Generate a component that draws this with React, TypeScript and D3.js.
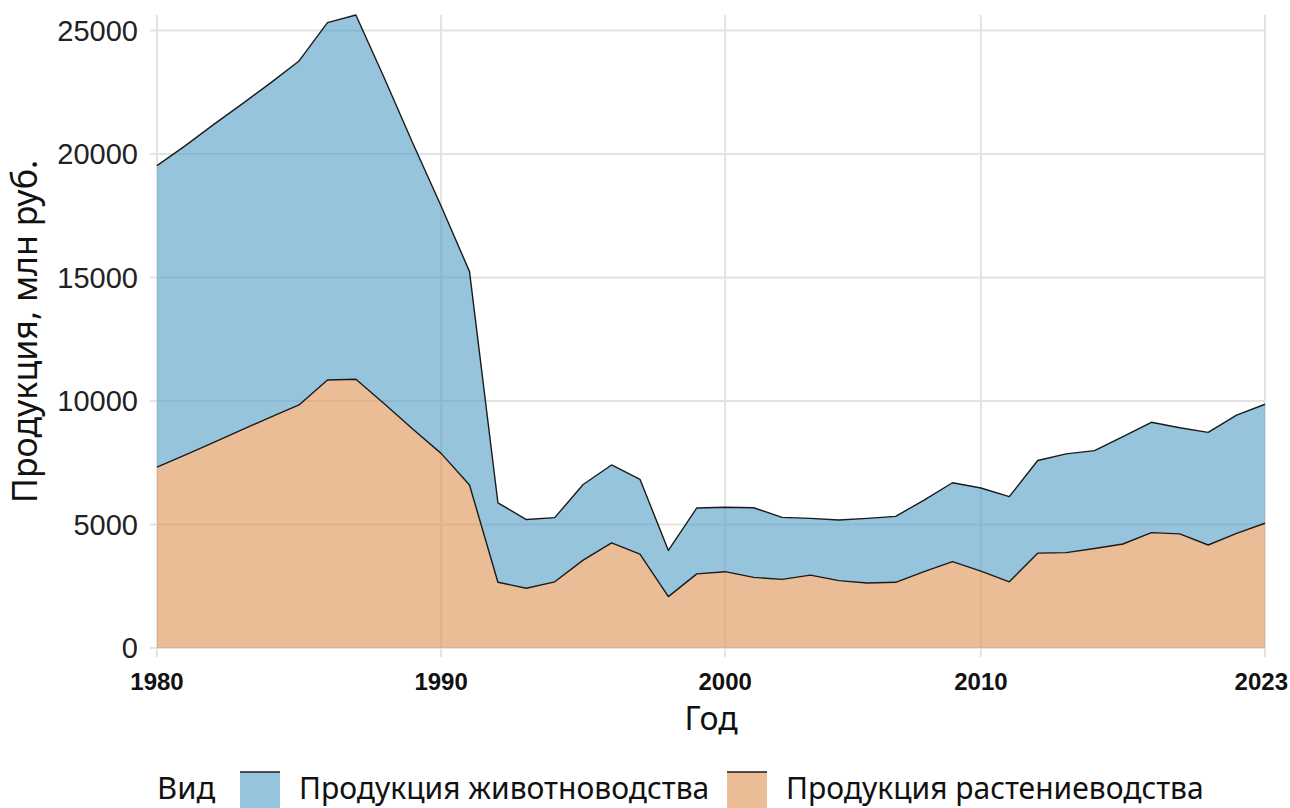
import React, { useMemo } from "react";
import * as d3 from "d3";

// Categorical year axis (the source uses years as factor levels, so spacing is even)
const YEARS = [
  1980, 1981, 1982, 1983, 1984, 1985, 1986, 1987, 1988, 1989,
  1990, 1991, 1992, 1993, 1994, 1995, 1996, 1997, 1998, 1999,
  2000, 2001, 2002, 2003, 2004, 2005, 2006, 2007, 2008, 2010,
  2011, 2012, 2014, 2015, 2017, 2018, 2020, 2021, 2022, 2023,
];

// Продукция растениеводства, млн руб.
const CROP = [
  7320, 7820, 8330, 8840, 9350, 9840, 10850, 10880, 9890, 8870,
  7880, 6600, 2660, 2420, 2680, 3560, 4260, 3800, 2080, 3000,
  3090, 2860, 2780, 2950, 2730, 2630, 2660, 3090, 3500, 3110,
  2680, 3840, 3860, 4030, 4210, 4670, 4620, 4170, 4640, 5050,
];

// Продукция животноводства, млн руб.
const LIVESTOCK = [
  12210, 12520, 12870, 13190, 13530, 13930, 14470, 14750, 13190, 11580,
  10020, 8640, 3220, 2780, 2600, 3060, 3150, 3030, 1870, 2670,
  2610, 2820, 2510, 2300, 2450, 2620, 2670, 2900, 3190, 3370,
  3450, 3750, 4000, 3960, 4350, 4470, 4300, 4560, 4790, 4820,
];

const X_BREAKS = [1980, 1990, 2000, 2010, 2023];
const Y_TICKS = [0, 5000, 10000, 15000, 20000, 25000];

const LEGEND = [
  { key: "livestock", label: "Продукция животноводства" },
  { key: "crop", label: "Продукция растениеводства" },
];

const W = 1290;
const H = 808;
const M = { top: 15, right: 25, bottom: 160, left: 157 };

const COLORS: Record<string, string> = {
  livestock: "#529dc6",
  crop: "#de9150",
};
const FILL_OPACITY = 0.6;
const GRID = "#e3e3e3";
const TICK_FONT = "'Liberation Sans', Arial, sans-serif";
const TITLE_FONT = "'Noto Sans', 'Open Sans', sans-serif";

export default function App() {
  const iW = W - M.left - M.right;
  const iH = H - M.top - M.bottom;

  const { x, y, layers } = useMemo(() => {
    const rows = YEARS.map((year, i) => ({ year, crop: CROP[i], livestock: LIVESTOCK[i] }));
    const stack = d3.stack<any>().keys(["crop", "livestock"]);
    const layers = stack(rows);
    const x = d3.scalePoint<number>().domain(YEARS).range([0, iW]).padding(0);
    const yMax = d3.max(rows, (r) => r.crop + r.livestock) ?? 1;
    const y = d3.scaleLinear().domain([0, yMax]).range([iH, 0]);
    return { x, y, layers };
  }, [iW, iH]);

  const area = d3
    .area<any>()
    .x((d) => x(d.data.year) ?? 0)
    .y0((d) => y(d[0]))
    .y1((d) => y(d[1]));
  const upper = d3
    .line<any>()
    .x((d) => x(d.data.year) ?? 0)
    .y((d) => y(d[1]));

  // keep the last year label inside the canvas (it sits flush with the right edge)
  const maxLabelRight = W - M.left - 2;

  return (
    <svg
      width={W}
      height={H}
      style={{ position: "absolute", left: 0, top: 0, background: "#fff" }}
    >
      <g transform={`translate(${M.left},${M.top})`}>
        {/* grid + ticks */}
        {Y_TICKS.map((t) => (
          <g key={t}>
            <line x1={-7} x2={iW} y1={y(t)} y2={y(t)} stroke={GRID} strokeWidth={2} />
            <text
              x={-19}
              y={y(t)}
              dy="0.36em"
              textAnchor="end"
              fontFamily={TICK_FONT}
              fontSize={29}
              fill="#222"
            >
              {t}
            </text>
          </g>
        ))}
        {X_BREAKS.map((b) => {
          const bx = x(b) ?? 0;
          const atEdge = bx + 28 > maxLabelRight;
          return (
            <g key={b}>
              <line x1={bx} x2={bx} y1={0} y2={iH + 9} stroke={GRID} strokeWidth={2} />
              <text
                x={atEdge ? maxLabelRight : bx}
                y={iH + 42}
                textAnchor={atEdge ? "end" : "middle"}
                fontFamily={TICK_FONT}
                fontWeight="bold"
                fontSize={24}
                fill="#111"
              >
                {b}
              </text>
            </g>
          );
        })}

        {/* stacked areas */}
        {layers.map((layer) => (
          <path
            key={layer.key}
            d={area(layer) ?? ""}
            fill={COLORS[layer.key]}
            fillOpacity={FILL_OPACITY}
          />
        ))}
        {layers.map((layer) => (
          <path
            key={layer.key + "-line"}
            d={upper(layer) ?? ""}
            fill="none"
            stroke="#1a1a1a"
            strokeWidth={1.4}
            strokeLinejoin="round"
          />
        ))}

        {/* axis titles */}
        <text
          x={iW / 2}
          y={iH + 82}
          textAnchor="middle"
          fontFamily={TITLE_FONT}
          fontSize={32}
          fill="#111"
        >
          Год
        </text>
        <text
          transform={`translate(${-120},${iH / 2}) rotate(-90)`}
          textAnchor="middle"
          fontFamily={TITLE_FONT}
          fontSize={34}
          fill="#111"
        >
          Продукция, млн руб.
        </text>
      </g>

      {/* legend */}
      <g transform="translate(157,799)">
        <text x={0} y={0} fontFamily={TITLE_FONT} fontSize={31} fill="#111">
          Вид
        </text>
        {LEGEND.map((item, i) => {
          const kx = i === 0 ? 83 : 570;
          return (
            <g key={item.key} transform={`translate(${kx},0)`}>
              <rect x={0} y={-27} width={40} height={44} fill={COLORS[item.key]} fillOpacity={FILL_OPACITY} />
              <line x1={0} x2={40} y1={-27} y2={-27} stroke="#1a1a1a" strokeWidth={1.4} />
              <text x={59} y={0} fontFamily={TITLE_FONT} fontSize={30} fill="#111">
                {item.label}
              </text>
            </g>
          );
        })}
      </g>
    </svg>
  );
}
